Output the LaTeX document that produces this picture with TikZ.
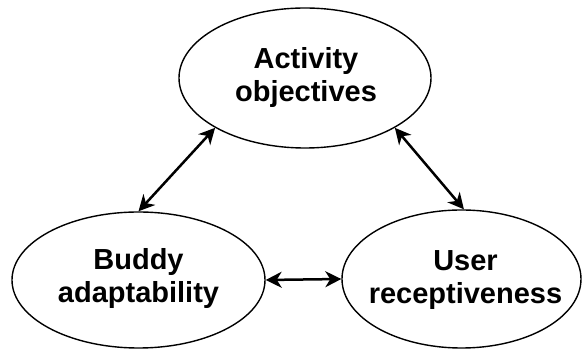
\documentclass[tikz,border=0pt]{standalone}
\usepackage{fontspec}
\setmainfont{Liberation Sans}
\usetikzlibrary{shapes.geometric,arrows.meta}
\tikzset{
  oval/.style={draw=black, line width=1.4pt, ellipse, inner sep=0pt},
  txt/.style={align=center, font=\fontsize{29}{33}\selectfont\bfseries, inner sep=0pt},
  link/.style={line width=2.5pt, {Stealth[length=16pt,width=16pt,inset=5pt]}-{Stealth[length=16pt,width=16pt,inset=5pt]}}
}
\begin{document}
\begin{tikzpicture}[x=1pt,y=-1pt]
\useasboundingbox (0,0) rectangle (582,352);
\node[oval, minimum width=252pt, minimum height=140pt] (top) at (305,78) {};
\node[oval, minimum width=253pt, minimum height=136pt] (left) at (138.5,280) {};
\node[oval, minimum width=239pt, minimum height=138pt] (right) at (461.5,279) {};
\node[txt] (toptxt) at (306,78) {Activity\\objectives};
\node[txt] (lefttxt) at (138.5,279) {Buddy\\adaptability};
\node[txt] (righttxt) at (465.5,280) {User\\receptiveness};
\draw[link] (top.209) -- (left.90);
\draw[link] (top.331) -- (right.88);
\draw[link] (left.east) -- (right.west);
\end{tikzpicture}
\end{document}
